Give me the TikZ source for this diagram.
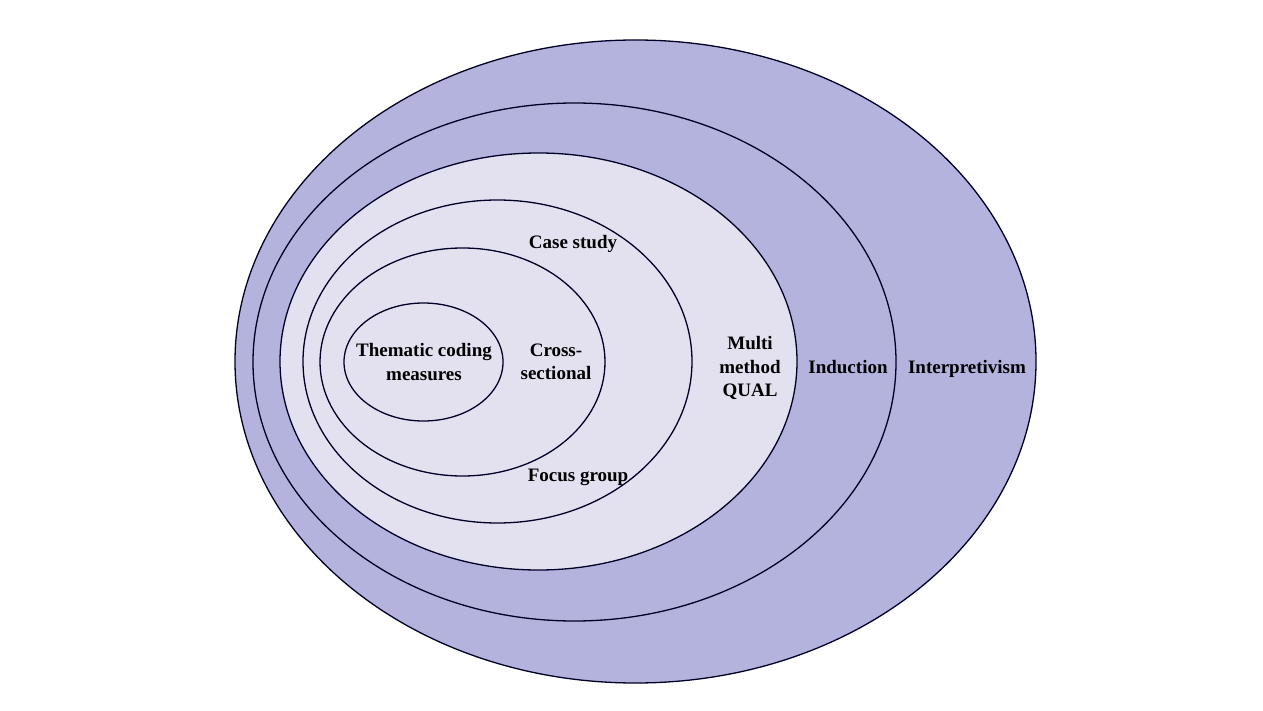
\documentclass[tikz,border=0pt]{standalone}
\usepackage{fontspec}
\setmainfont{Liberation Serif}
\definecolor{outerfill}{HTML}{B3B3DD}
\definecolor{innerfill}{HTML}{E3E1F0}
\begin{document}
\begin{tikzpicture}[x=1pt,y=-1pt,
  ring/.style={draw=black!85!blue, line width=1.3pt},
  lbl/.style={font=\fontsize{19}{23.5}\selectfont\bfseries, align=center, inner sep=0pt}]
\useasboundingbox[fill=white] (0,0) rectangle (1263,711);
\path[ring, fill=outerfill] (635.5,361.5) ellipse [x radius=400.5, y radius=321.5];
\path[ring, fill=outerfill] (574.5,362) ellipse [x radius=321.5, y radius=259];
\path[ring, fill=innerfill] (538.5,361.5) ellipse [x radius=258.5, y radius=208.5];
\path[ring, fill=innerfill] (497.5,361.5) ellipse [x radius=194.5, y radius=161.5];
\path[ring, fill=innerfill] (462.5,362) ellipse [x radius=142.5, y radius=114];
\path[ring, fill=innerfill] (423.5,362) ellipse [x radius=79.5, y radius=59];
\node[lbl] (interp) at (967,369) {Interpretivism};
\node[lbl] (induc) at (848,367) {Induction};
\node[lbl] (multi) at (750,368) {Multi\\method\\QUAL};
\node[lbl] (case) at (573,243.5) {Case study};
\node[lbl] (focus) at (578,477.5) {Focus group};
\node[lbl] (cross) at (556,362) {Cross-\\sectional};
\node[lbl] (them) at (424,362) {Thematic coding\\measures};
\end{tikzpicture}
\end{document}
